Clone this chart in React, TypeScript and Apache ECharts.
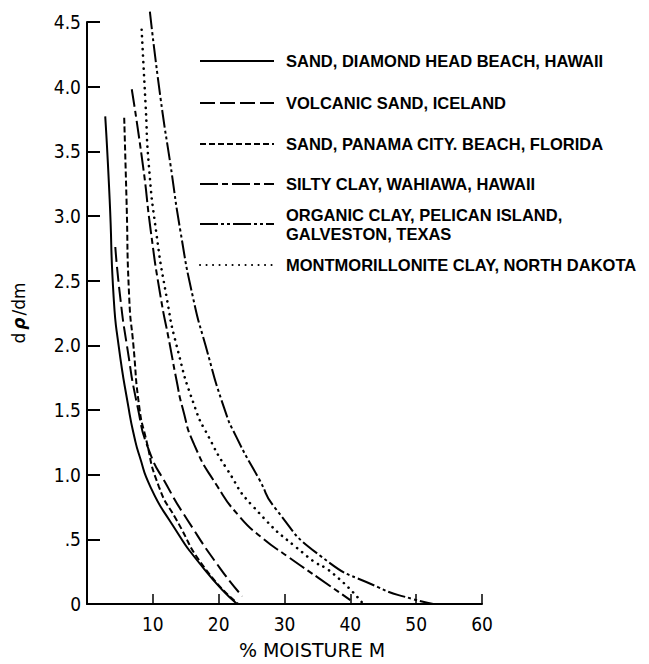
import React, { useEffect, useRef } from "react";
import * as echarts from "echarts";

// ---- data (x = % moisture, y = dρ/dm) ----
const seriesNames = [
  "SAND, DIAMOND HEAD BEACH, HAWAII",
  "VOLCANIC SAND, ICELAND",
  "SAND, PANAMA CITY. BEACH, FLORIDA",
  "SILTY CLAY, WAHIAWA, HAWAII",
  "ORGANIC CLAY, PELICAN ISLAND,\nGALVESTON, TEXAS",
  "MONTMORILLONITE CLAY, NORTH DAKOTA",
];

const sandDiamondHead: number[][] = [
  [2.77, 3.77], [3.44, 3.13], [4.05, 2.37], [4.8, 2.0], [6.3, 1.52], [7.2, 1.29],
  [8.0, 1.14], [9.6, 0.91], [12.5, 0.65], [17.8, 0.27], [22.8, 0.0],
];
const volcanicSand: number[][] = [
  [4.3, 2.76], [5.05, 2.37], [6.06, 2.0], [7.7, 1.52], [9.4, 1.19], [12.2, 0.91],
  [15.26, 0.65], [20.3, 0.27], [23.6, 0.06],
];
const panamaSand: number[][] = [
  [5.65, 3.76], [6.0, 3.13], [6.41, 2.37], [7.05, 2.0], [7.95, 1.52], [8.9, 1.29],
  [10.9, 0.91], [13.6, 0.65], [18.0, 0.27], [23.0, 0.0],
];
const siltyClay: number[][] = [
  [6.8, 3.98], [8.5, 3.39], [9.7, 2.88], [11.1, 2.4], [12.6, 2.0], [13.6, 1.73],
  [14.5, 1.52], [16.3, 1.23], [19.8, 0.91], [23.1, 0.68], [26.4, 0.52], [30.4, 0.37],
  [35.2, 0.2], [40.0, 0.03],
];
const organicClay: number[][] = [
  [9.55, 4.58], [11.2, 3.9], [12.7, 3.39], [14.2, 2.88], [16.1, 2.37], [18.0, 2.0],
  [20.8, 1.52], [22.7, 1.29], [26.2, 0.96], [28.6, 0.74], [35.5, 0.37], [44.2, 0.13],
  [49.5, 0.038], [52.6, 0.0],
];
const montmorilloniteClay: number[][] = [
  [8.3, 4.44], [8.9, 3.86], [9.4, 3.39], [10.5, 2.88], [12.1, 2.37], [13.6, 2.0],
  [16.4, 1.52], [18.5, 1.29], [21.3, 1.04], [25.3, 0.75], [33.4, 0.37], [37.5, 0.23],
  [41.8, 0.01],
];

const seriesData = [sandDiamondHead, volcanicSand, panamaSand, siltyClay, organicClay, montmorilloniteClay];
const dashPatterns: (number[] | "solid")[] = [
  "solid",
  [15, 5],
  [6, 3],
  [18, 4, 6, 4],
  [18, 3, 3, 3, 3, 3],
  [0.1, 6.4],
];
const legendCenters = [61, 103, 144, 184, 224, 265];

const xTicks = { min: 0, max: 60, interval: 10 };
const yTicks = { min: 0, max: 4.5, interval: 0.5 };

export default function App() {
  const ref = useRef<HTMLDivElement>(null);
  useEffect(() => {
    if (!ref.current) return;
    const chart = echarts.init(ref.current, undefined, { renderer: "svg" });
    const legendFont = {
      fontFamily: "'Liberation Sans', Arial, sans-serif",
      fontWeight: "bold" as const,
      fontSize: 16.5,
      lineHeight: 19,
      color: "#000",
      padding: [0, 0, 0, 7],
    };
    const legends = seriesNames.map((name, i) => {
      const multi = name.includes("\n");
      return {
        data: [name],
        left: 199,
        top: legendCenters[i] - (multi ? 19 : 9.5),
        padding: 0,
        itemWidth: 74,
        itemHeight: 14,
        selectedMode: false,
        itemStyle: { opacity: 0 },
        textStyle: legendFont,
      };
    });
    const option: any = {
      animation: false,
      backgroundColor: "#fff",
      grid: { left: 87, right: 167, top: 22, bottom: 56, containLabel: false },
      legend: legends,
      xAxis: {
        type: "value",
        ...xTicks,
        name: "% MOISTURE M",
        nameLocation: "middle",
        nameGap: 36,
        nameTextStyle: {
          fontFamily: "'DejaVu Sans', sans-serif",
          fontSize: 19,
          color: "#000",
          padding: [0, 0, 0, 55],
        },
        axisLine: { show: true, lineStyle: { color: "#000", width: 2 } },
        axisTick: { show: true, inside: true, length: 10, lineStyle: { color: "#000", width: 1.5 } },
        axisLabel: {
          show: true,
          margin: 10,
          color: "#000",
          fontFamily: "'DejaVu Sans Condensed', 'DejaVu Sans', sans-serif",
          fontSize: 19,
          formatter: (v: number) => (v === 0 ? "" : String(v)),
        },
        splitLine: { show: false },
      },
      yAxis: {
        type: "value",
        ...yTicks,
        name: "{a|d}{b|ρ}{a|/dm}",
        nameLocation: "middle",
        nameRotate: 90,
        nameGap: 60,
        nameTextStyle: {
          color: "#000",
          rich: {
            a: { fontFamily: "'DejaVu Sans', sans-serif", fontSize: 17, color: "#000" },
            b: { fontFamily: "'DejaVu Sans', sans-serif", fontSize: 17, fontWeight: "bold", fontStyle: "italic", color: "#000", padding: [0, 2, 0, 3] },
          },
        },
        axisLine: { show: true, lineStyle: { color: "#000", width: 2 } },
        axisTick: { show: true, inside: true, length: 13, lineStyle: { color: "#000", width: 2 } },
        axisLabel: {
          show: true,
          margin: 6,
          color: "#000",
          fontFamily: "'DejaVu Sans Condensed', 'DejaVu Sans', sans-serif",
          fontSize: 19,
          formatter: (v: number) => (v === 0 ? "0" : v < 1 ? ".5" : v.toFixed(1)),
        },
        splitLine: { show: false },
      },
      series: seriesNames.map((name, i) => ({
        name,
        type: "line",
        data: seriesData[i],
        smooth: 0.6,
        symbol: "none",
        clip: false,
        lineStyle: {
          color: "#000",
          width: i === 5 ? 2.6 : 2,
          type: dashPatterns[i],
          cap: i === 5 ? "round" : "butt",
        },
        itemStyle: { color: "#000" },
      })),
    };
    chart.setOption(option);
    return () => chart.dispose();
  }, []);
  return (
    <div
      ref={ref}
      style={{ position: "absolute", left: 0, top: 0, width: 649, height: 664, background: "#fff" }}
    />
  );
}
